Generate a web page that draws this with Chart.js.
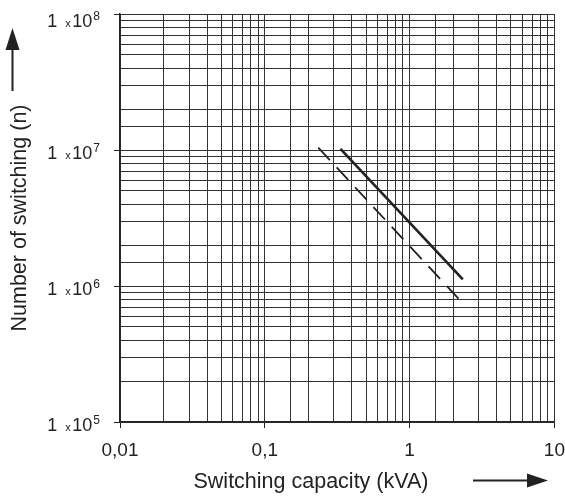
<!DOCTYPE html>
<html>
<head>
<meta charset="utf-8">
<script src="https://cdn.jsdelivr.net/npm/chart.js@4/dist/chart.umd.min.js"></script>
<style>
  html, body { margin: 0; padding: 0; background: #fff; }
  #wrap { width: 565px; height: 500px; }
</style>
</head>
<body>
<div id="wrap"><canvas id="c"></canvas></div>
<script>
// Schaltleistung (kVA) -> Schaltspiele (n)
const solidX = [0.333, 2.33];
const solidY = [1.02e7, 1.12e6];
const dashedX = [0.234, 2.33];
const dashedY = [1.04e7, 7.46e5];

const xLimits = [0.01, 10];
const yLimits = [1e5, 1e8];
const xTickText = { '-2': '0,01', '-1': '0,1', '0': '1', '1': '10' };

const FONT = 'Arial, "Liberation Sans", sans-serif';
const INK = '#222';

function isDecade(v) {
  const l = Math.log10(v);
  return Math.abs(l - Math.round(l)) < 1e-6;
}

function pts(xs, ys) {
  return xs.map((x, i) => ({ x: x, y: ys[i] }));
}

// y labels "1 x 10^n", axis title below, arrows
const decorPlugin = {
  id: 'decor',
  afterDraw(chart) {
    const { ctx, chartArea, scales } = chart;
    const ys = scales.y;
    ctx.save();
    ctx.fillStyle = INK;
    ctx.textBaseline = 'alphabetic';
    ctx.textAlign = 'right';
    ys.ticks.forEach(t => {
      if (!isDecade(t.value)) return;
      const exp = Math.round(Math.log10(t.value));
      const py = ys.getPixelForValue(t.value);
      const base = Math.max(py + 9, 27);
      let xr = chartArea.left - 20;
      ctx.font = '12px ' + FONT;
      ctx.fillText(String(exp), xr, base - 7);
      xr -= ctx.measureText(String(exp)).width + 1;
      ctx.font = '18px ' + FONT;
      ctx.fillText('10', xr, base);
      xr -= ctx.measureText('10').width + 1.5;
      ctx.font = '11px ' + FONT;
      ctx.fillText('x', xr, base);
      xr -= ctx.measureText('x').width + 8;
      ctx.font = '18px ' + FONT;
      ctx.fillText('1', xr, base);
    });

    // x axis title
    ctx.font = '21.5px ' + FONT;
    ctx.textAlign = 'center';
    ctx.fillText('Switching capacity (kVA)', 311, 488);

    // arrows
    ctx.strokeStyle = INK;
    ctx.lineWidth = 2;
    ctx.beginPath();
    ctx.moveTo(12.5, 91); ctx.lineTo(12.5, 48);
    ctx.moveTo(473, 480.5); ctx.lineTo(530, 480.5);
    ctx.stroke();
    ctx.beginPath();
    ctx.moveTo(12.5, 28); ctx.lineTo(5.5, 50); ctx.lineTo(19.5, 50); ctx.closePath();
    ctx.fill();
    ctx.beginPath();
    ctx.moveTo(548, 480.5); ctx.lineTo(527, 473.5); ctx.lineTo(527, 487.5); ctx.closePath();
    ctx.fill();
    ctx.restore();
  }
};

new Chart(document.getElementById('c'), {
  type: 'line',
  data: {
    datasets: [
      {
        label: 'solid',
        data: pts(solidX, solidY),
        borderColor: INK,
        borderWidth: 2.6,
        pointRadius: 0,
        tension: 0,
        fill: false,
      },
      {
        label: 'dashed',
        data: pts(dashedX, dashedY),
        borderColor: INK,
        borderWidth: 1.8,
        borderDash: [17, 10],
        pointRadius: 0,
        tension: 0,
        fill: false,
      },
    ],
  },
  options: {
    responsive: true,
    maintainAspectRatio: false,
    animation: false,
    layout: { padding: { top: 14, right: 2, left: 0, bottom: 0 } },
    plugins: {
      legend: { display: false },
      tooltip: { enabled: false },
    },
    scales: {
      x: {
        type: 'logarithmic',
        min: xLimits[0],
        max: xLimits[1],
        afterFit: (s) => { s.height = 78; },
        grid: {
          color: '#333',
          lineWidth: 1,
          tickLength: 6,
          tickColor: (c) => (c.tick && isDecade(c.tick.value) ? INK : 'rgba(0,0,0,0)'),
        },
        border: { color: INK, width: 1.5 },
        ticks: {
          autoSkip: false,
          maxRotation: 0,
          // tick padding also widens the right margin, so move labels down with lineHeight
          padding: 0,
          color: INK,
          font: { family: FONT, size: 19, lineHeight: 2.36 },
          callback: (v) => {
            if (!isDecade(v)) return '';
            return xTickText[String(Math.round(Math.log10(v)))];
          },
        },
      },
      y: {
        type: 'logarithmic',
        min: yLimits[0],
        max: yLimits[1],
        afterFit: (s) => { s.width = 120; },
        grid: {
          color: '#333',
          lineWidth: 1,
          tickLength: 6,
          tickColor: (c) => (c.tick && isDecade(c.tick.value) ? INK : 'rgba(0,0,0,0)'),
        },
        border: { color: INK, width: 1.5 },
        ticks: {
          autoSkip: false,
          callback: () => '',
        },
        title: {
          display: true,
          text: 'Number of switching (n)',
          color: INK,
          font: { family: FONT, size: 21.5 },
          padding: { top: 7, bottom: 0 },
        },
      },
    },
  },
  plugins: [decorPlugin],
});
</script>
</body>
</html>
